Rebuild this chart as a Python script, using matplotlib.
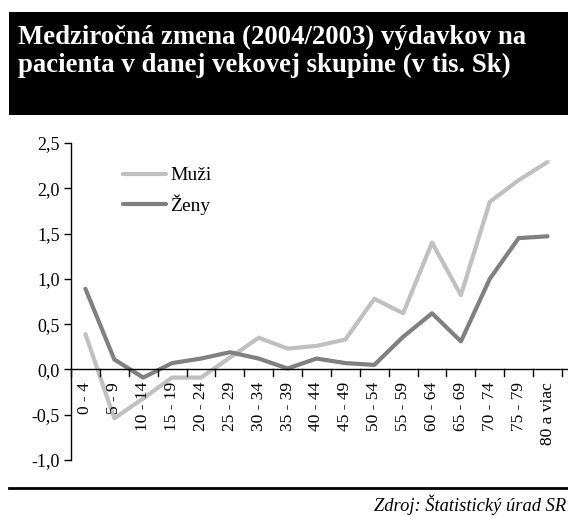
import matplotlib.pyplot as plt
from matplotlib.patches import Rectangle
from matplotlib.lines import Line2D

# vekove skupiny a hodnoty (v tis. Sk)
vek = ['0 - 4', '5 - 9', '10 - 14', '15 - 19', '20 - 24', '25 - 29', '30 - 34',
       '35 - 39', '40 - 44', '45 - 49', '50 - 54', '55 - 59', '60 - 64',
       '65 - 69', '70 - 74', '75 - 79', '80 a viac']
muzi = [0.39, -0.54, -0.32, -0.09, -0.09, 0.13, 0.35, 0.23, 0.26, 0.33,
        0.78, 0.62, 1.40, 0.82, 1.85, 2.09, 2.29]
zeny = [0.89, 0.11, -0.09, 0.07, 0.12, 0.19, 0.12, 0.01, 0.12, 0.07,
        0.05, 0.36, 0.62, 0.31, 1.00, 1.45, 1.47]
y_ticks = [-1.0, -0.5, 0.0, 0.5, 1.0, 1.5, 2.0, 2.5]
y_labels = ['-1,0', '-0,5', '0,0', '0,5', '1,0', '1,5', '2,0', '2,5']

plt.rcParams['font.family'] = ['Liberation Serif', 'DejaVu Serif']

fig = plt.figure(figsize=(5.68, 5.16), dpi=100)

# cierny pruh s nadpisom
fig.patches.append(Rectangle((9 / 568, 1 - 115 / 516), 559 / 568, 103 / 516,
                             transform=fig.transFigure, facecolor='black',
                             edgecolor='none'))
fig.text(18 / 568, 1 - 25 / 516,
         'Medziročná zmena (2004/2003) výdavkov na\npacienta v danej vekovej skupine (v tis. Sk)',
         color='white', fontsize=19.3, fontweight='bold', va='top', ha='left',
         linespacing=1.15)

ax = fig.add_axes([71 / 568, 1 - 460 / 516, 491 / 568, 317 / 516])
x = range(len(vek))
ax.plot(x, muzi, color='#c0c0c0', linewidth=3, label='Muži', solid_capstyle='round')
ax.plot(x, zeny, color='#808080', linewidth=3, label='Ženy', solid_capstyle='round')

ax.set_xlim(-0.5, len(vek) - 0.5)
ax.set_ylim(-1.0, 2.5)
ax.set_yticks(y_ticks)
ax.set_yticklabels(y_labels, fontsize=13)
ax.tick_params(axis='y', direction='out', length=5, width=1, pad=3)

for s in ['top', 'right', 'bottom']:
    ax.spines[s].set_visible(False)
ax.spines['left'].set_linewidth(1)

# os x na nule s ciarkami medzi skupinami
ax.axhline(0, color='black', linewidth=1, xmin=0, xmax=1.01, clip_on=False)
ax.set_xticks([])
for i in range(len(vek) + 1):
    ax.plot([i - 0.5, i - 0.5], [0, -0.07], color='black', linewidth=1, clip_on=False)
for i, lab in enumerate(vek):
    ax.text(i, -0.14, lab, rotation=90, ha='center', va='top', fontsize=12.5)

leg = ax.legend(loc='upper left', bbox_to_anchor=(0.07, 0.98), frameon=False,
                fontsize=14, handlelength=2.2, handletextpad=0.25, labelspacing=0.5)

# spodna ciara a zdroj
fig.add_artist(Line2D([9 / 568, 1], [1 - 488 / 516, 1 - 488 / 516],
                      transform=fig.transFigure, color='black', linewidth=2))
fig.text(566 / 568, 1 - 505 / 516, 'Zdroj: Štatistický úrad SR', ha='right',
         va='center', fontsize=13.3, style='italic')

fig.savefig('out.png', dpi=100)
